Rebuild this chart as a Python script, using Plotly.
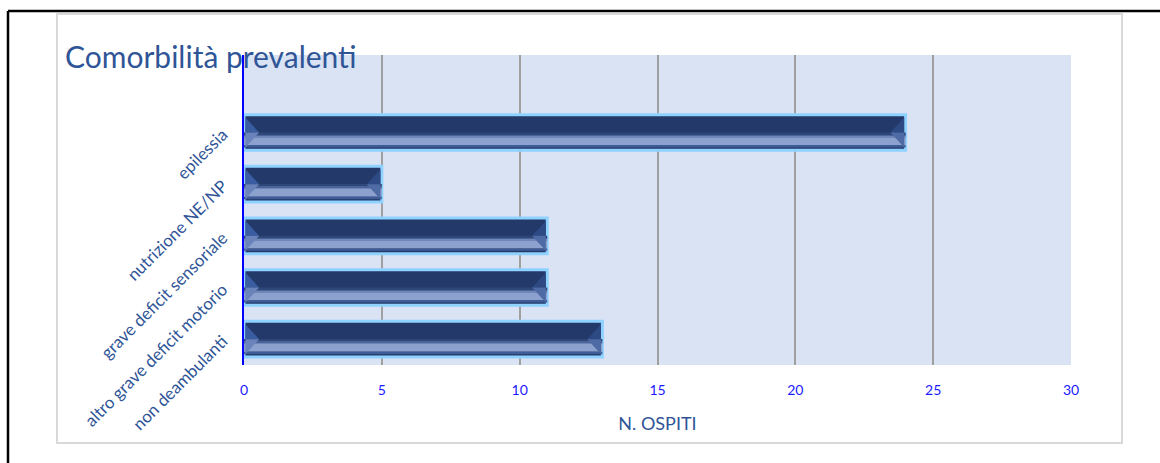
import plotly.graph_objects as go

# ---- data ----
categories = ["non deambulanti", "altro grave deficit motorio", "grave deficit sensoriale",
              "nutrizione NE/NP", "epilessia"]
values = [13, 11, 11, 5, 24]
x_ticks = [0, 5, 10, 15, 20, 25, 30]
title_text = "Comorbilità prevalenti"
x_title = "N. OSPITI"

W, H = 1160, 463
L, R, T, B = 244, 1071, 55, 365
positions = list(range(len(categories)))

def px(x):
    return (x - L) / (R - L)

def py(y):
    return (B - y) / (B - T)

fig = go.Figure()

# bar layers (bevel imitation): (offset, width, colour)
HALF = 0.345
layers = [
    (-HALF, 2 * HALF, "#22396A"),
    (-0.29, 0.05, "#3F5C96"),
    (-0.24, 0.15, "#8CA1CD"),
    (-0.09, 0.03, "#6F86B8"),
    (-0.06, 0.03, "#4A6399"),
    (-0.03, 0.03, "#2E4678"),
]
for i, (off, wd, col) in enumerate(layers):
    fig.add_trace(go.Bar(
        x=values, y=positions, orientation="h", base=0,
        offset=off, width=wd,
        marker=dict(color=col,
                    line=dict(color="#8FD2FF" if i == 0 else col, width=3 if i == 0 else 0)),
        hoverinfo="skip", showlegend=False,
    ))

# end bevel triangles computed from data
dx = 0.55
hh = 0.29
def tri_trace(pts_fn, color):
    xs, ys = [], []
    for v, p in zip(values, positions):
        for (a, b) in pts_fn(v, p):
            xs.append(a); ys.append(b)
        xs.append(None); ys.append(None)
    fig.add_trace(go.Scatter(x=xs, y=ys, fill="toself", fillcolor=color, mode="none",
                             hoverinfo="skip", showlegend=False))

tri_trace(lambda v, p: [(0.05, p + hh), (dx, p), (0.05, p), (0.05, p + hh)], "#3A5CA0")
tri_trace(lambda v, p: [(0.05, p), (dx, p), (0.05, p - hh), (0.05, p)], "#6A83BA")
tri_trace(lambda v, p: [(v - 0.05, p + hh), (v - dx, p), (v - 0.05, p), (v - 0.05, p + hh)], "#2D4A85")
tri_trace(lambda v, p: [(v - 0.05, p), (v - dx, p), (v - 0.05, p - hh), (v - 0.05, p)], "#4F6BA5")

FONT = "Lato"
fig.update_layout(
    width=W, height=H,
    margin=dict(l=L, r=W - R, t=T, b=H - B, pad=0),
    paper_bgcolor="white", plot_bgcolor="#DAE3F3",
    barmode="overlay",
    font=dict(family=FONT, color="#2F5597"),
    title=dict(text=title_text, xref="container", yref="container",
               x=65 / W, xanchor="left", y=1 - 57 / H, yanchor="middle",
               font=dict(size=30, color="#2F5597", family=FONT)),
    xaxis=dict(range=[0, 30], tickvals=x_ticks, showgrid=True, gridcolor="#A0A0A0",
               gridwidth=1.5, zeroline=False, showline=False,
               ticks="outside", ticklen=12, tickcolor="rgba(0,0,0,0)",
               tickfont=dict(size=14, color="#1A1AFF", family=FONT),
               title=dict(text=x_title, font=dict(size=18, color="#2F5597", family=FONT), standoff=20),
               fixedrange=True),
    yaxis=dict(range=[-0.5, 5.5], tickvals=positions, ticktext=categories,
               tickangle=-45, showgrid=False, zeroline=False,
               showline=True, linecolor="#0000FF", linewidth=2,
               ticks="outside", ticklen=16, tickcolor="rgba(0,0,0,0)",
               tickfont=dict(size=17, color="#2F5597", family=FONT),
               fixedrange=True),
    shapes=[
        dict(type="rect", xref="paper", yref="paper", x0=px(57), x1=px(1122), y0=py(443), y1=py(14),
             line=dict(color="#D9D9D9", width=2), layer="below"),
        dict(type="line", xref="paper", yref="paper", x0=px(8), x1=px(1160), y0=py(11), y1=py(11),
             line=dict(color="black", width=2.5)),
        dict(type="line", xref="paper", yref="paper", x0=px(8), x1=px(8), y0=py(11), y1=py(463),
             line=dict(color="black", width=2.5)),
    ],
)

fig.write_html("out.html", config={"displayModeBar": False},
               post_script="document.body.style.margin='0';")
